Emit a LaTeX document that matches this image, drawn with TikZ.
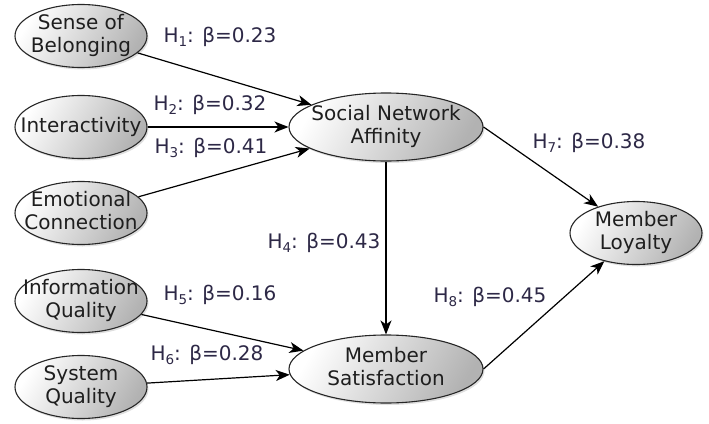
\documentclass[tikz,border=0pt]{standalone}
\usepackage{fontspec}
\setmainfont{DejaVu Sans}
\usetikzlibrary{arrows.meta,shapes.geometric,shadows}
\definecolor{labc}{RGB}{45,40,70}
\definecolor{txtc}{RGB}{30,30,30}
\newcommand\hsub[1]{H\raisebox{-0.4ex}{\fontsize{13.5}{13.5}\selectfont #1}}
\newcommand\ztext[1]{\makebox[0pt]{\raisebox{-0.30em}[0pt][0pt]{\begin{tabular}{@{}c@{}}#1\end{tabular}}}}
\tikzset{
  construct/.style={ellipse, draw=black!85, line width=1.1pt, inner sep=0pt,
    minimum width=132pt, minimum height=63pt, text=txtc,
    font=\fontsize{20}{23}\selectfont,
    shading=axis, left color=white, right color=black!30, shading angle=60,
    drop shadow={opacity=0.25, shadow xshift=1.5pt, shadow yshift=-2pt}},
  bigconstruct/.style={construct, minimum width=194pt, minimum height=68pt},
  path/.style={draw=black, line width=1.2pt, -{Stealth[length=14pt,width=11pt,inset=4pt]}},
  hlabel/.style={text=labc, font=\fontsize{20}{23}\selectfont, inner sep=0pt}
}
\begin{document}
\begin{tikzpicture}[x=1pt,y=-1pt]
\useasboundingbox (0,0) rectangle (709,423);
\node[construct] (sob) at (81,36) {\ztext{Sense of\\Belonging}};
\node[construct] (int) at (81,127) {\ztext{Interactivity}};
\node[construct] (emo) at (81,213) {\ztext{Emotional\\Connection}};
\node[construct] (inf) at (81,301) {\ztext{Information\\Quality}};
\node[construct] (sys) at (81,387) {\ztext{System\\Quality}};
\node[bigconstruct] (sna) at (386,127) {\ztext{Social Network\\Affinity}};
\node[bigconstruct] (sat) at (386,369) {\ztext{Member\\Satisfaction}};
\node[construct] (loy) at (636,233) {\ztext{Member\\Loyalty}};

\draw[path] (sob) -- (sna);
\draw[path] (int) -- (sna);
\draw[path] (emo) -- (sna);
\draw[path] (sna) -- (sat);
\draw[path] (inf) -- (sat);
\draw[path] (sys) -- (sat);
\draw[path] (sna.east) -- (loy);
\draw[path] (sat.east) -- (loy);

\node[hlabel] (l1) at (220,37) {\hsub{1}: β=0.23};
\node[hlabel] (l2) at (210,105) {\hsub{2}: β=0.32};
\node[hlabel] (l3) at (211,148) {\hsub{3}: β=0.41};
\node[hlabel] (l4) at (324,243) {\hsub{4}: β=0.43};
\node[hlabel] (l5) at (220,295) {\hsub{5}: β=0.16};
\node[hlabel] (l6) at (207,355) {\hsub{6}: β=0.28};
\node[hlabel] (l7) at (589,143) {\hsub{7}: β=0.38};
\node[hlabel] (l8) at (490,297) {\hsub{8}: β=0.45};
\end{tikzpicture}
\end{document}
